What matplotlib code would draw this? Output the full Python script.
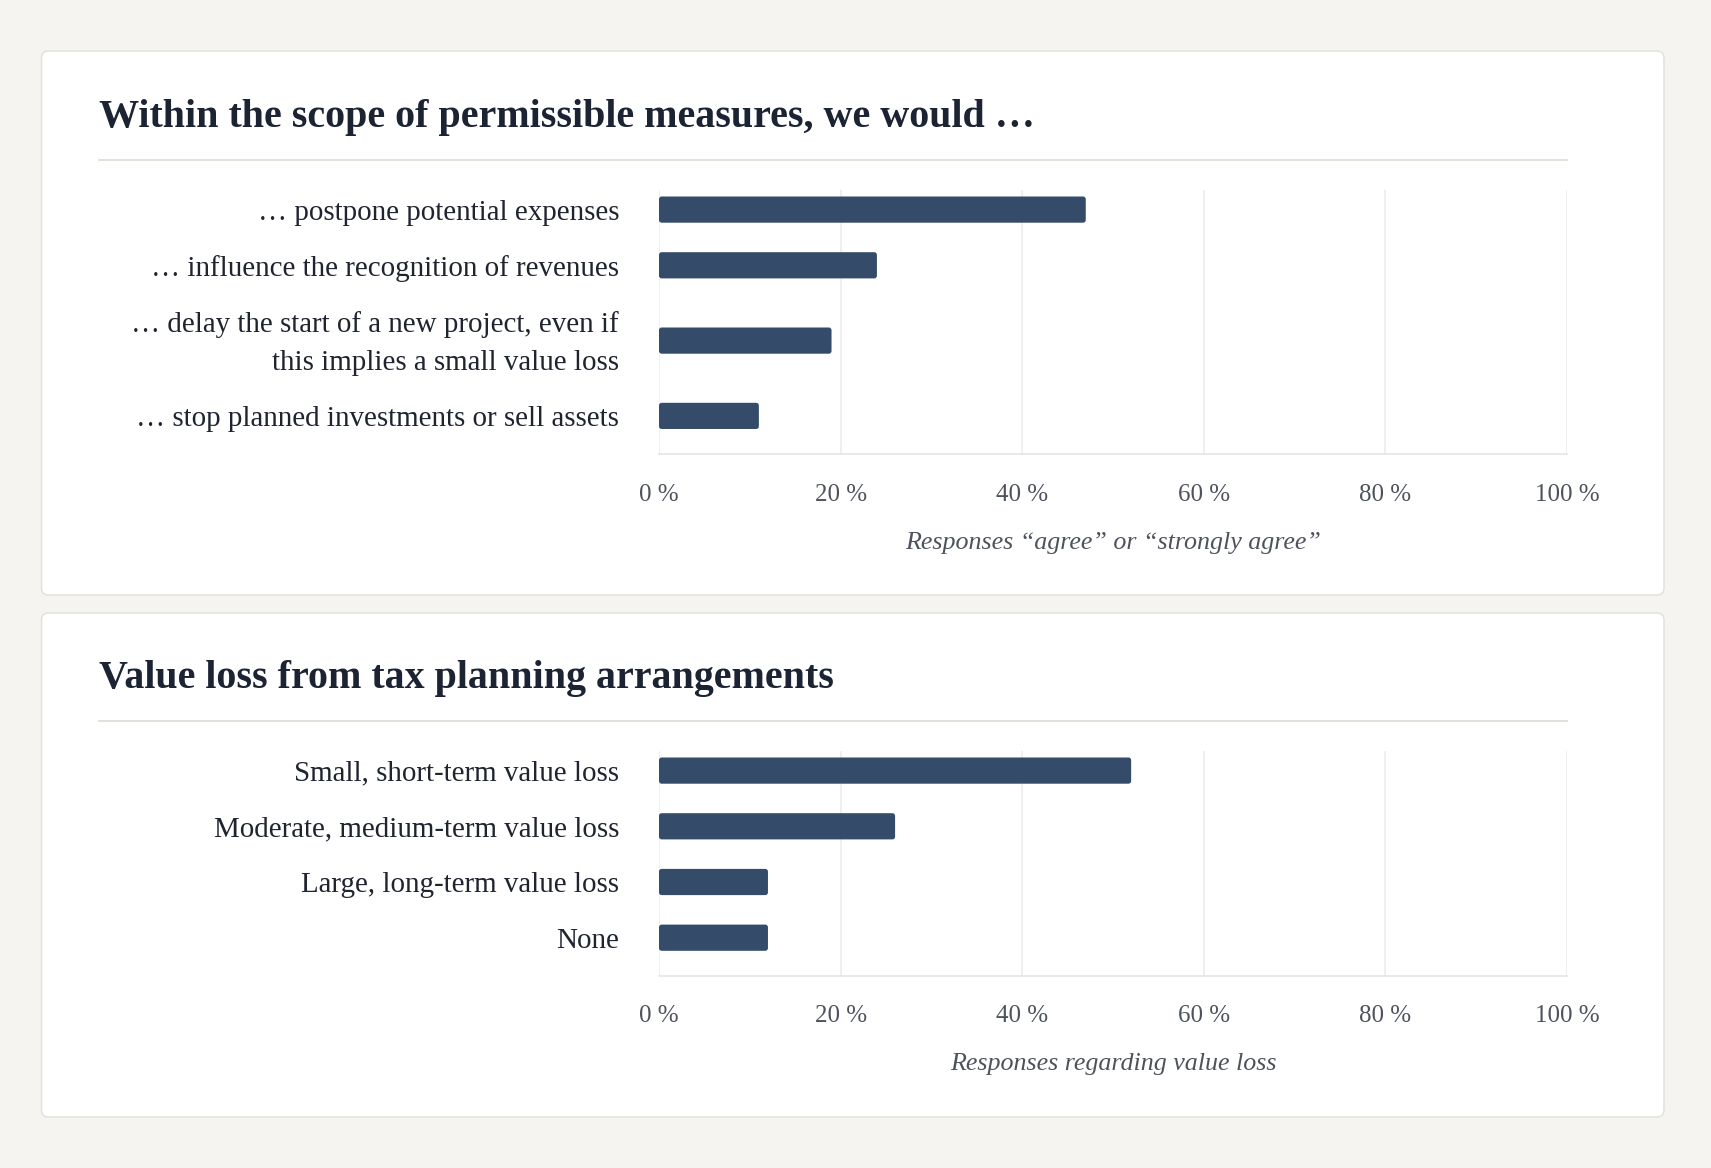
import matplotlib
matplotlib.use("Agg")
import matplotlib.pyplot as plt
from matplotlib.patches import FancyBboxPatch
from matplotlib.transforms import ScaledTranslation

# ---------------- data ----------------
title1 = "Within the scope of permissible measures, we would …"
cats1 = [
    "… postpone potential expenses",
    "… influence the recognition of revenues",
    "… delay the start of a new project, even if\nthis implies a small value loss",
    "… stop planned investments or sell assets",
]
vals1 = [47, 24, 19, 11]
xlabel1 = "Responses “agree” or “strongly agree”"

title2 = "Value loss from tax planning arrangements"
cats2 = [
    "Small, short-term value loss",
    "Moderate, medium-term value loss",
    "Large, long-term value loss",
    "None",
]
vals2 = [52, 26, 12, 12]
xlabel2 = "Responses regarding value loss"

xticks = [0, 20, 40, 60, 80, 100]
xticklabels = ["0 %", "20 %", "40 %", "60 %", "80 %", "100 %"]

# ---------------- style ----------------
W, H, DPI = 1711, 1168, 72
BG = "#f5f4f0"
CARD_EDGE = "#e3e1db"
BAR = "#344b6a"
TITLE_C = "#1c2333"
LABEL_C = "#1f2430"
TICK_C = "#4d525c"
GRID_C = "#ebebeb"
SERIF = ["Liberation Serif", "DejaVu Serif"]

STEP, BAR_H, EXTRA, TOP_PAD, BOT_PAD = 55.7, 26.2, 19.6, 19.6, 38.2

plt.rcParams["font.family"] = SERIF

fig = plt.figure(figsize=(W / DPI, H / DPI), dpi=DPI, facecolor=BG)
bg = fig.add_axes([0, 0, 1, 1], zorder=0)
bg.set_xlim(0, W)
bg.set_ylim(H, 0)
bg.axis("off")


def layout(labels):
    y, pos, prev = TOP_PAD, [], 0
    for i, lab in enumerate(labels):
        extra = lab.count("\n") * EXTRA
        if i > 0:
            y += STEP + prev + extra
        pos.append(y)
        prev = extra
    return pos, y + BOT_PAD + prev


panels = [
    dict(card=(41.5, 51, 1622.5, 544), title=title1, tb=127, div=160,
         top=190, cats=cats1, vals=vals1, xlabel=xlabel1),
    dict(card=(41.5, 613, 1622.5, 504), title=title2, tb=688, div=721,
         top=751, cats=cats2, vals=vals2, xlabel=xlabel2),
]

for p in panels:
    x0, y0, w, h = p["card"]
    bg.add_patch(FancyBboxPatch((x0, y0), w, h,
                                boxstyle="round,pad=0,rounding_size=7",
                                facecolor="white", edgecolor=CARD_EDGE, lw=1.5))
    bg.text(99, p["tb"], p["title"], fontsize=40, fontweight="bold",
            color=TITLE_C, ha="left", va="baseline")
    bg.plot([99, 1567], [p["div"], p["div"]], color=CARD_EDGE, lw=2)

    pos, total = layout(p["cats"])
    ax = fig.add_axes([659 / W, 1 - (p["top"] + total) / H, 908 / W, total / H],
                      zorder=2)
    ax.set_facecolor("none")
    ax.set_xlim(0, 100)
    ax.set_ylim(total, 0)
    bars = ax.barh(pos, p["vals"], height=BAR_H, color=BAR, zorder=3)
    # rounded corners
    for b in bars:
        bx, by = b.get_x(), b.get_y()
        bw, bh = b.get_width(), b.get_height()
        b.set_visible(False)
        ax.add_patch(FancyBboxPatch((bx, by), bw, bh,
                                    boxstyle="round,pad=0,rounding_size=0.3",
                                    mutation_aspect=9.0,
                                    facecolor=BAR, edgecolor="none", zorder=3))
    for t in xticks:
        ax.axvline(t, color=GRID_C, lw=1.5, zorder=1)
    for s in ["top", "left", "right"]:
        ax.spines[s].set_visible(False)
    ax.spines["bottom"].set_color("#e2e2e2")
    ax.spines["bottom"].set_linewidth(1.5)
    ax.set_xticks(xticks, xticklabels)
    ax.set_yticks(pos, p["cats"])
    ax.tick_params(axis="x", length=0, pad=29.5, labelsize=25, labelcolor=TICK_C)
    ax.tick_params(axis="y", length=0, pad=40, labelsize=29, labelcolor=LABEL_C)
    for lab in ax.get_yticklabels():
        lab.set_linespacing(1.6)
        lab.set_ha("right")
        if "\n" in lab.get_text():
            lab.set_va("center")
            lab.set_transform(lab.get_transform() +
                              ScaledTranslation(0, -3.3 / 72, fig.dpi_scale_trans))
    ax.set_xlabel(p["xlabel"], fontsize=26, fontstyle="italic", color=TICK_C,
                  labelpad=26)

fig.savefig("out.png", dpi=DPI, facecolor=BG)
